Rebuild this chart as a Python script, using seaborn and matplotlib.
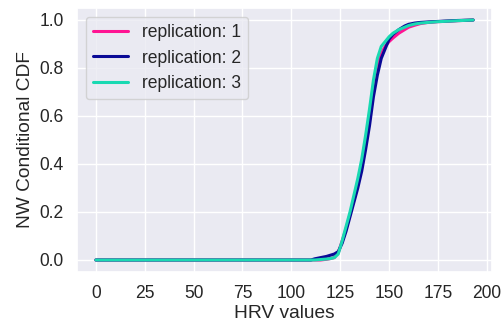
import numpy as np
import pandas as pd
import matplotlib
matplotlib.use("Agg")
import matplotlib.pyplot as plt
import seaborn as sns

hrv = [0, 110, 112, 115, 118, 120, 122, 124, 126, 128, 130, 132, 134, 136, 138, 140,
       142, 144, 146, 148, 150, 152, 155, 158, 160, 163, 166, 170, 175, 180, 185, 190, 193]
rep1 = [0, 0, 0, 0, 0.003, 0.006, 0.01, 0.03, 0.08, 0.13, 0.19, 0.25, 0.32, 0.40, 0.50, 0.60,
        0.72, 0.81, 0.86, 0.89, 0.91, 0.925, 0.945, 0.96, 0.97, 0.978, 0.985, 0.99, 0.993, 0.995, 0.997, 0.999, 1.0]
rep2 = [0, 0, 0.005, 0.01, 0.015, 0.02, 0.025, 0.035, 0.07, 0.12, 0.18, 0.24, 0.30, 0.37, 0.46, 0.56,
        0.68, 0.77, 0.84, 0.88, 0.92, 0.94, 0.96, 0.975, 0.982, 0.987, 0.99, 0.992, 0.994, 0.996, 0.998, 0.999, 1.0]
rep3 = [0, 0, 0, 0.002, 0.004, 0.006, 0.01, 0.025, 0.08, 0.14, 0.20, 0.27, 0.34, 0.42, 0.52, 0.63,
        0.75, 0.84, 0.89, 0.91, 0.93, 0.945, 0.96, 0.97, 0.977, 0.983, 0.987, 0.99, 0.993, 0.995, 0.997, 0.999, 1.0]
labels = ["replication: 1", "replication: 2", "replication: 3"]
colors = ["#FF1493", "#0A0A96", "#19D9B2"]

df = pd.concat([
    pd.DataFrame({"HRV values": hrv, "cdf": r, "rep": lab})
    for r, lab in zip([rep1, rep2, rep3], labels)
])

sns.set_theme(style="darkgrid", font_scale=1.15)
plt.rcParams["font.family"] = ["Liberation Sans", "DejaVu Sans"]
fig = plt.figure(figsize=(5.04, 3.22), dpi=100)
ax = fig.add_axes([77/504, 50/322, 415/504, 264/322])
sns.lineplot(data=df, x="HRV values", y="cdf", hue="rep", palette=colors,
             linewidth=2.2, ax=ax)
ax.set_ylabel("NW Conditional CDF")
ax.set_xlabel("HRV values", labelpad=2)
ax.set_xticks([0, 25, 50, 75, 100, 125, 150, 175, 200])
ax.set_yticks([0.0, 0.2, 0.4, 0.6, 0.8, 1.0])
ax.legend(title=None, loc="upper left")
fig.savefig("out.png", dpi=100)
